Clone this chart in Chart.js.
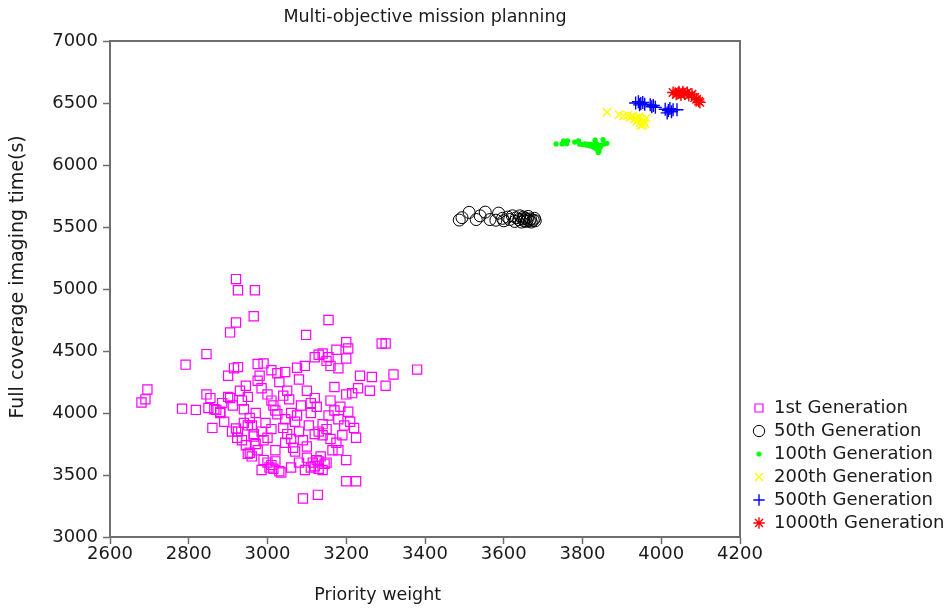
<!DOCTYPE html>
<html>
<head>
<meta charset="utf-8">
<script src="https://cdn.jsdelivr.net/npm/chart.js@4"></script>
<style>
html,body{margin:0;padding:0;background:#fff;}
#wrap{width:949px;height:609px;position:relative;}
</style>
</head>
<body>
<div id="wrap"><canvas id="c" width="949" height="609"></canvas></div>
<script>
const chartTitle = 'Multi-objective mission planning';
const xTitle = 'Priority weight';
const yTitle = 'Full coverage imaging time(s)';
const xTicks = [2600, 2800, 3000, 3200, 3400, 3600, 3800, 4000, 4200];
const yTicks = [3000, 3500, 4000, 4500, 5000, 5500, 6000, 6500, 7000];
const seriesNames = ['1st Generation', '50th Generation', '100th Generation', '200th Generation', '500th Generation', '1000th Generation'];

const gen1 = [
[2920,5080],[2925,4990],[2968,4990],[2965,4780],[2920,4730],[2905,4650],[3155,4750],[3098,4630],
[2792,4390],[2845,4475],[2915,4360],[2925,4370],[2975,4395],[2990,4400],[3010,4345],[3025,4320],[3045,4330],
[3075,4365],[3095,4380],[3120,4450],[3130,4470],[3140,4480],[3155,4450],[3175,4510],[3200,4570],[3205,4520],
[3200,4440],[3290,4560],[3300,4560],[3380,4350],[3320,4310],[3265,4290],[3230,4200],[3260,4180],[3300,4220],
[3235,4300],[3180,4360],[3160,4380],[3150,4420],
[2680,4085],[2690,4110],[2695,4190],[2783,4035],[2818,4025],[2845,4150],[2850,4040],[2855,4120],[2860,3880],
[2870,4025],[2880,4000],[2885,4080],[2890,3930],[2900,4300],[2905,4120],[2910,3850],[2912,4060],[2920,3875],
[2923,3800],[2925,3850],[2930,4180],[2935,4100],[2940,4030],[2945,3740],[2950,3670],[2955,3680],[2960,3650],
[2945,4220],[2950,4130],[2955,3960],[2960,3900],[2965,3830],[2970,4000],[2975,4260],[2980,4300],[2985,4200],
[2990,3780],[3000,3600],[3005,3560],[3010,3580],[3015,3550],[3020,3610],[3030,3530],[3035,3520],[2985,3540],
[2990,3620],[2975,3700],[2970,3750],[2995,3920],[3000,4150],[3010,4100],[3015,4060],[3020,4020],[3025,3990],
[3030,4250],[3040,3880],[3045,3950],[3050,3830],[3055,4110],[3060,3790],[3065,3720],[3070,3690],[3075,3980],
[3080,3850],[3085,4060],[3090,3780],[3095,3540],[3090,3310],[3100,3640],[3105,3900],[3110,4080],[3115,3600],
[3120,3570],[3125,3620],[3128,3340],[3130,3550],[3135,3650],[3140,3820],[3145,3590],[3150,3870],[3155,3980],
[3160,4100],[3165,3700],[3170,4210],[3175,3760],[3180,3950],[3185,4050],[3190,3820],[3195,3900],[3200,3620],
[3200,3450],[3225,3450],[3210,3930],[3220,3880],[3225,3800],[3205,4010],[3215,4160],[3080,4270],[3100,4180],
[3120,4120],[3125,4050],[3060,4000],[3050,4180],[3040,4140],[3110,4000],[3140,3910],[3130,3850],[3120,3830],
[3010,3870],[3000,3800],[2985,3850],[2965,3810],[2940,3920],[3070,3930],[3160,3790],[3100,3730],[3080,3600],
[3060,3560],[3150,3600],[3110,3560],[3140,3540],[3130,3610],[3020,3700],[3045,3760],[3180,3700],[3170,4020],
[3200,4150],[2880,4010],[2935,3780],[2950,3900],[2900,4130],[2865,4030]
];
const gen50 = [
[3487,5556],[3494,5575],[3512,5618],[3530,5560],[3540,5590],[3553,5620],[3565,5560],[3580,5555],[3587,5612],
[3597,5570],[3600,5550],[3610,5580],[3615,5560],[3622,5590],[3628,5545],[3632,5575],[3638,5560],[3641,5590],
[3645,5540],[3648,5565],[3650,5580],[3652,5550],[3655,5570],[3657,5545],[3660,5560],[3662,5585],[3665,5550],
[3668,5565],[3670,5540],[3675,5555],[3678,5570],[3680,5550]
];
const gen100 = [
[3733,6170],[3748,6170],[3752,6195],[3762,6195],[3760,6172],[3780,6185],[3790,6195],[3793,6168],[3800,6165],
[3806,6170],[3810,6160],[3815,6168],[3818,6155],[3822,6165],[3825,6150],[3828,6160],[3830,6140],[3832,6200],
[3835,6155],[3836,6130],[3838,6165],[3840,6100],[3842,6110],[3845,6150],[3848,6160],[3852,6205],[3856,6170],
[3862,6175],[3844,6140],[3834,6175]
];
const gen200 = [
[3862,6425],[3893,6405],[3905,6395],[3915,6400],[3922,6385],[3928,6395],[3932,6370],[3936,6380],[3940,6360],
[3943,6390],[3946,6340],[3950,6370],[3953,6325],[3956,6355],[3958,6335],[3962,6380],[3948,6320],[3938,6350]
];
const gen500 = [
[3935,6500],[3942,6510],[3948,6495],[3953,6505],[3958,6490],[3972,6485],[3976,6470],[3980,6480],[3985,6465],
[4010,6450],[4015,6420],[4018,6440],[4022,6455],[4026,6430],[4030,6445],[4040,6445],[3945,6485]
];
const gen1000 = [
[4030,6585],[4038,6570],[4043,6580],[4050,6565],[4055,6590],[4060,6575],[4066,6585],[4070,6560],[4078,6570],
[4085,6545],[4090,6530],[4095,6515],[4098,6505],[4045,6590]
];

const toPts = arr => arr.map(p => ({x: p[0], y: p[1]}));
const FONT = "'DejaVu Sans', sans-serif";
const AXIS = '#6e6e6e';
const TXT = '#1a1a1a';
const NB = '\u00a0';

// small green dot used as legend symbol
const dotImg = document.createElement('canvas');
dotImg.width = 7; dotImg.height = 7;
(function(){const g = dotImg.getContext('2d'); g.fillStyle = '#00ff00'; g.beginPath(); g.arc(3.5,3.5,2.6,0,Math.PI*2); g.fill();})();

const legendWidthPlugin = {
  id: 'legendWidth',
  afterInit(chart) {
    const lg = chart.legend;
    if (!lg) return;
    const f = lg.fit;
    lg.fit = function() { f.call(this); this.width = 201; };
  }
};

new Chart(document.getElementById('c'), {
  type: 'scatter',
  data: {
    datasets: [
      {label: seriesNames[0], data: toPts(gen1), pointStyle: 'rect', pointRadius: 6.5, pointHoverRadius: 6.5, borderColor: '#ff00ff', backgroundColor: 'rgba(0,0,0,0)', borderWidth: 1.2},
      {label: seriesNames[1], data: toPts(gen50), pointStyle: 'circle', pointRadius: 6, pointHoverRadius: 6, borderColor: '#000000', backgroundColor: 'rgba(0,0,0,0)', borderWidth: 1},
      {label: seriesNames[2], data: toPts(gen100), pointStyle: 'circle', pointRadius: 2.6, pointHoverRadius: 2.6, borderColor: '#00ff00', backgroundColor: '#00ff00', borderWidth: 0},
      {label: seriesNames[3], data: toPts(gen200), pointStyle: 'crossRot', pointRadius: 6, pointHoverRadius: 6, borderColor: '#ffff00', backgroundColor: '#ffff00', borderWidth: 1.4},
      {label: seriesNames[4], data: toPts(gen500), pointStyle: 'cross', pointRadius: 6.5, pointHoverRadius: 6.5, borderColor: '#0000ff', backgroundColor: '#0000ff', borderWidth: 1.4},
      {label: seriesNames[5], data: toPts(gen1000), pointStyle: 'star', pointRadius: 6, pointHoverRadius: 6, borderColor: '#ff0000', backgroundColor: '#ff0000', borderWidth: 1.4}
    ]
  },
  options: {
    responsive: false,
    animation: false,
    events: [],
    layout: {padding: 0},
    plugins: {
      title: {display: false},
      tooltip: {enabled: false},
      legend: {
        display: true,
        position: 'right',
        align: 'end',
        fullSize: false,
        labels: {
          usePointStyle: true,
          boxWidth: 12,
          boxHeight: 8,
          padding: 5,
          color: TXT,
          font: {family: FONT, size: 18},
          generateLabels(chart) {
            const items = Chart.defaults.plugins.legend.labels.generateLabels(chart);
            if (items[2]) items[2].pointStyle = dotImg;
            return items;
          }
        },
        padding: 14
      }
    },
    scales: {
      x: {
        type: 'linear', position: 'bottom', min: 2600, max: 4200,
        afterBuildTicks: s => { s.ticks = xTicks.map(v => ({value: v})); },
        afterFit: s => { s.height = 72; },
        ticks: {color: TXT, font: {family: FONT, size: 18}, padding: 0, maxRotation: 0, autoSkip: false, callback: v => String(v)},
        grid: {display: true, drawOnChartArea: false, drawTicks: true, tickLength: 7, color: AXIS, tickWidth: 1.5},
        border: {display: true, color: AXIS, width: 2},
        title: {display: true, text: xTitle + NB.repeat(17), color: TXT, font: {family: FONT, size: 17.5}, padding: {top: 0, bottom: 3}}
      },
      xTop: {
        type: 'linear', position: 'top', min: 2600, max: 4200,
        afterFit: s => { s.height = 41; },
        ticks: {display: false},
        grid: {display: false, drawTicks: false},
        border: {display: true, color: AXIS, width: 2},
        title: {display: true, text: chartTitle, color: TXT, font: {family: FONT, size: 17.5}, padding: {top: 7, bottom: 0}}
      },
      y: {
        type: 'linear', position: 'left', min: 3000, max: 7000,
        afterBuildTicks: s => { s.ticks = yTicks.map(v => ({value: v})); },
        afterFit: s => { s.width = 110; },
        ticks: {color: TXT, font: {family: FONT, size: 18}, padding: 5, autoSkip: false, callback: v => String(v)},
        grid: {display: true, drawOnChartArea: false, drawTicks: true, tickLength: 7, color: AXIS, tickWidth: 1.5},
        border: {display: true, color: AXIS, width: 2},
        title: {display: true, text: NB.repeat(4) + yTitle, color: TXT, font: {family: FONT, size: 19}, padding: {top: 7, bottom: 0}}
      },
      yRight: {
        type: 'linear', position: 'right', min: 3000, max: 7000,
        afterFit: s => { s.width = 8; },
        ticks: {display: false},
        grid: {display: false, drawTicks: false},
        border: {display: true, color: AXIS, width: 2}
      }
    }
  },
  plugins: [legendWidthPlugin]
});
</script>
</body>
</html>
